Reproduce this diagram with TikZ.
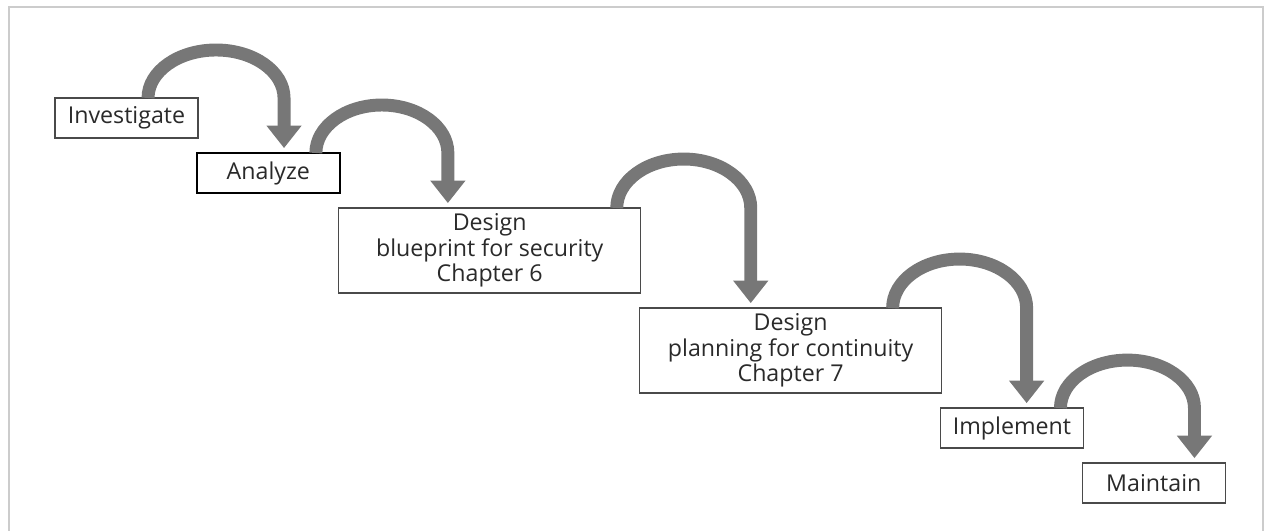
\documentclass[tikz,border=0pt]{standalone}
\usepackage{fontspec}
\setmainfont{Open Sans}
\usepackage{tikz}
\usetikzlibrary{positioning, arrows.meta, calc}

\definecolor{arrowgray}{HTML}{777777}
\definecolor{boxgray}{HTML}{4A4A4A}
\definecolor{textgray}{HTML}{2A2A2A}
\definecolor{framegray}{HTML}{CCCCCC}

\begin{document}
\begin{tikzpicture}
	[x=0.025cm, y=0.025cm, node distance=0.375cm and -0.03cm,
	 stage/.style={draw=boxgray, line width=1pt, outer sep=0pt, fill=white, text=textgray, minimum width=3.575cm, minimum height=1cm, inner sep=2pt, font=\fontsize{16.5}{18}\selectfont},
	 bigstage/.style={stage, minimum width=7.55cm, minimum height=2.125cm, align=center},
	 flow/.style={draw=arrowgray, line width=9.2pt, -{Triangle[width=24pt,length=16pt]}, shorten >=3.5pt}]
   \useasboundingbox (0,0) rectangle (1268,-531);
   \draw[framegray, line width=1.4pt] (9,-531) |- (1263,-7) -- (1263,-531);
   \node[stage, anchor=north west] (inv) at (55,-98) {Investigate};
   \node[stage, draw=black, line width=1.8pt] (ana) [below right=of inv] {Analyze};
   \node[bigstage] (des) [below right=of ana] {Design\\ blueprint for security\\ Chapter 6};
   \node[bigstage] (pla) [below right=of des] {Design\\ planning for continuity\\ Chapter 7};
   \node[stage] (imp) [below right=of pla] {Implement};
   \node[stage] (mai) [below right=of imp] {Maintain};
   \draw[flow] ($(inv.north east)+(-50,0)$) arc[start angle=180, end angle=0, x radius=68, y radius=48] coordinate (a1) -- (a1 |- ana.north);
   \draw[flow] ($(ana.north east)+(-24,0)$) arc[start angle=180, end angle=0, x radius=66, y radius=48] coordinate (a2) -- (a2 |- des.north);
   \draw[flow] ($(des.north east)+(-24,0)$) arc[start angle=180, end angle=0, x radius=67, y radius=49] coordinate (a3) -- (a3 |- pla.north);
   \draw[flow] ($(pla.north east)+(-49,0)$) arc[start angle=180, end angle=0, x radius=67, y radius=49] coordinate (a4) -- (a4 |- imp.north);
   \draw[flow] ($(imp.north east)+(-23,0)$) arc[start angle=180, end angle=0, x radius=67, y radius=48] coordinate (a5) -- (a5 |- mai.north);
\end{tikzpicture}
\end{document}
